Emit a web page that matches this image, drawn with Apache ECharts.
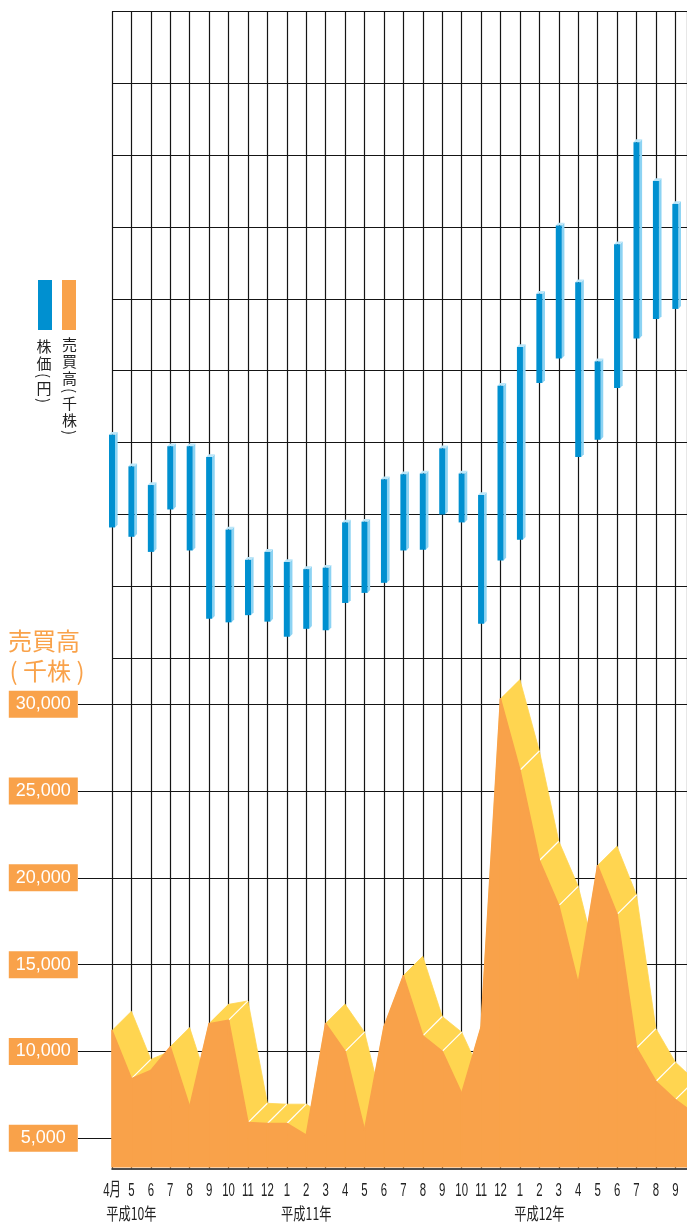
<!DOCTYPE html>
<html>
<head>
<meta charset="utf-8">
<script src="https://cdn.jsdelivr.net/npm/echarts@6/dist/echarts.min.js"></script>
<style>
html,body{margin:0;padding:0;background:#fff;}
#chart{width:687px;height:1225px;}
</style>
</head>
<body>
<div id="chart"></div>
<script>
// ---------------- data ----------------
const monthLabels = ['4月','5','6','7','8','9','10','11','12','1','2','3',
                     '4','5','6','7','8','9','10','11','12','1','2','3',
                     '4','5','6','7','8','9'];
// year captions shown under the month row (keyed by category index)
const yearLabels = {1: '平成10年', 10: '平成11年', 22: '平成12年'};

// stock price range per month (upper / lower end of each bar, 円; axis is unlabeled)
const stockHigh = [311,267,241,295,295,280,179,137,148,134,124,126,
                   189,190,249,256,257,292,257,227,379,433,507,602,
                   523,413,576,718,664,632];
const stockLow  = [182,169,148,207,150, 55, 50, 60, 51, 30, 41, 39,
                    77, 91,105,150,151,200,189, 48,136,165,383,417,
                   280,304,376,445,472,486];

// trading volume (千株); the last value is the partly visible following month
const volume = [11200, 8430, 8900,10250, 6800,11600,11800, 5900, 5850, 5850, 5170,11600,
                10000, 5460,11400,14360,10900,10000, 7570,11400,30300,26200,21000,18400,
                13900,20700,17900,10200, 8270, 7220, 6400];

const volumeAxis = {min: 0, max: 30000, step: 5000, floor: 3360};
const stockAxis  = {min: 0, max: 900, step: 100};

// ---------------- styles ----------------
const ORANGE = '#F9A24A';
const YELLOW = '#FFD550';
const BLUE = '#0090D0';
const BLUE_SIDE = '#8CD3F3';
const BLUE_TOP = '#BDE6F8';
const GRID_COLOR = '#151515';
const TEXT_COLOR = '#222222';
const X_MAX = 29.6;
const DEPTH = 19.3;   // pixel depth of the 3D volume ribbon

function fmtThousands(v) {
  return String(v).replace(/\B(?=(\d{3})+(?!\d))/g, ',');
}

function renderBar(params, api) {
  const i = api.value(0);
  const top = api.coord([i, api.value(1)]);
  const bot = api.coord([i, api.value(2)]);
  const step = api.size([1, 0])[0];
  const w = step * 0.31;
  const dx = 2.6, dy = 2.8;
  const x0 = top[0] - w / 2, x1 = top[0] + w / 2;
  return {
    type: 'group',
    children: [
      {type: 'polygon', shape: {points: [[x1, top[1]], [x1 + dx, top[1] - dy], [x1 + dx, bot[1] - dy], [x1, bot[1]]]},
       style: {fill: BLUE_SIDE}},
      {type: 'polygon', shape: {points: [[x0, top[1]], [x1, top[1]], [x1 + dx, top[1] - dy], [x0 + dx, top[1] - dy]]},
       style: {fill: BLUE_TOP}},
      {type: 'rect', shape: {x: x0, y: top[1], width: w, height: bot[1] - top[1]},
       style: {fill: BLUE}}
    ]
  };
}

function renderVolume(params, api) {
  const i = params.dataIndexInside;
  const n = params.dataInsideLength;
  if (i >= n - 1) return null;
  const step = api.size([1, 0])[0];
  const pt = (k) => api.coord([api.value(0, k), api.value(1, k)]);
  const base = (k) => api.coord([api.value(0, k), volumeAxis.floor]);
  const p0 = pt(i), p1 = pt(i + 1);
  const b0 = base(i), b1 = base(i + 1);
  const v = [step, -DEPTH];
  const visible = (a, b) => (a[1] - b[1]) < DEPTH;
  const children = [];
  children.push({
    type: 'polygon', z2: 1,
    shape: {points: [p0, p1, [p1[0] + v[0], p1[1] + v[1]], [p0[0] + v[0], p0[1] + v[1]]]},
    style: {fill: YELLOW, stroke: YELLOW, lineWidth: 0.8}
  });
  if (i > 0) {
    const pm = pt(i - 1);
    if (visible(pm, p0) && visible(p0, p1)) {
      children.push({
        type: 'line', z2: 2,
        shape: {x1: p0[0], y1: p0[1], x2: p0[0] + v[0], y2: p0[1] + v[1]},
        style: {stroke: '#ffffff', lineWidth: 1.2}
      });
    }
  }
  children.push({
    type: 'polygon', z2: 3,
    shape: {points: [b0, p0, p1, b1]},
    style: {fill: ORANGE, stroke: ORANGE, lineWidth: 1.6, lineJoin: 'round'}
  });
  return {type: 'group', children: children};
}

// month / year captions under the frame (condensed lettering as in the original)
function renderMonthLabel(params, api) {
  const i = api.value(0);
  const p = api.coord([i, 0]);
  const children = [{
    type: 'text', x: p[0], y: p[1] + 22, scaleX: 0.6,
    style: {text: monthLabels[i], fontSize: 19, fontFamily: '"Liberation Sans", "Noto Sans CJK JP"',
            fill: TEXT_COLOR, align: 'center', verticalAlign: 'middle'}
  }];
  if (yearLabels[i]) {
    children.push({
      type: 'text', x: p[0], y: p[1] + 45, scaleX: 0.72,
      style: {text: yearLabels[i], fontSize: 17, fontFamily: '"Noto Sans CJK JP"',
              fill: TEXT_COLOR, align: 'center', verticalAlign: 'middle'}
    });
  }
  return {type: 'group', children: children};
}

function verticalLabel(str, cx, startY) {
  const els = [];
  let y = startY, prevA = null;
  for (const ch of str) {
    const isParen = ch === '(' || ch === ')';
    const a = isParen ? 8 : 17;
    if (prevA !== null) y += (prevA + a) / 2;
    prevA = a;
    els.push({
      type: 'text', x: cx, y: y, rotation: isParen ? -Math.PI / 2 : 0,
      style: {text: ch, fontSize: 15, fontFamily: '"Noto Sans CJK JP"', fill: TEXT_COLOR,
              align: 'center', verticalAlign: 'middle'}
    });
  }
  return els;
}

const chart = echarts.init(document.getElementById('chart'), null, {renderer: 'canvas'});

const option = {
  backgroundColor: '#ffffff',
  animation: false,
  grid: [
    {left: 112, right: 0, top: 11.3, bottom: 56.7},     // frame of vertical lines + month axis
    {left: 112, right: 0, top: 11.3, bottom: 566.7},    // stock price panel
    {left: 112, right: 0, top: 704.3, bottom: -1.8}     // volume panel
  ],
  xAxis: [
    {
      type: 'value', gridIndex: 0, min: 0, max: X_MAX, interval: 1,
      splitLine: {show: true, lineStyle: {color: GRID_COLOR, width: 1.2}},
      axisLine: {show: true, onZero: false, lineStyle: {color: GRID_COLOR, width: 1.6}},
      axisTick: {show: false},
      axisLabel: {show: false}
    },
    {type: 'value', gridIndex: 1, min: 0, max: X_MAX, show: false},
    {type: 'value', gridIndex: 2, min: 0, max: X_MAX, show: false}
  ],
  yAxis: [
    {type: 'value', gridIndex: 0, min: 0, max: 1, show: false},
    {
      type: 'value', gridIndex: 1, min: stockAxis.min, max: stockAxis.max, interval: stockAxis.step,
      axisLine: {show: false}, axisTick: {show: false}, axisLabel: {show: false},
      splitLine: {show: true, lineStyle: {color: GRID_COLOR, width: 1.2}}
    },
    {
      type: 'value', gridIndex: 2, min: volumeAxis.min, max: volumeAxis.max, interval: volumeAxis.step,
      axisLine: {show: false},
      axisTick: {show: true, inside: false, length: 34, lineStyle: {color: GRID_COLOR, width: 1.2}},
      splitLine: {show: true, lineStyle: {color: GRID_COLOR, width: 1.2}},
      axisLabel: {
        showMinLabel: false,
        formatter: fmtThousands,
        color: '#ffffff', fontSize: 18, fontFamily: '"Liberation Sans", Arial, sans-serif',
        backgroundColor: ORANGE, width: 69, align: 'center', padding: [4, 0, 3, 0], lineHeight: 20,
        margin: 68.7
      }
    }
  ],
  graphic: [
    {type: 'rect', left: 38, top: 280, shape: {width: 14, height: 50}, style: {fill: BLUE}},
    {type: 'rect', left: 62, top: 280, shape: {width: 14, height: 50}, style: {fill: ORANGE}},
    {type: 'group', children: verticalLabel('株価(円)', 44, 346)},
    {type: 'group', children: verticalLabel('売買高(千株)', 69.5, 344)},
    {type: 'text', x: 44, y: 641,
     style: {text: '売買高', fill: ORANGE, fontSize: 24, fontFamily: '"Noto Sans CJK JP"', align: 'center', verticalAlign: 'middle'}},
    {type: 'text', x: 47, y: 671,
     style: {text: '( 千株 )', fill: ORANGE, fontSize: 24, fontFamily: '"Noto Sans CJK JP"', align: 'center', verticalAlign: 'middle'}}
  ],
  series: [
    {
      type: 'custom', name: '株価', xAxisIndex: 1, yAxisIndex: 1,
      renderItem: renderBar,
      encode: {x: 0, y: [1, 2]},
      data: stockHigh.map((h, i) => [i, h, stockLow[i]])
    },
    {
      type: 'custom', name: '売買高', xAxisIndex: 2, yAxisIndex: 2,
      renderItem: renderVolume,
      clip: false,
      encode: {x: 0, y: 1},
      data: volume.map((v, i) => [i, v])
    },
    {
      type: 'custom', name: '月', xAxisIndex: 0, yAxisIndex: 0,
      renderItem: renderMonthLabel,
      clip: false, silent: true,
      encode: {x: 0, y: 1},
      data: monthLabels.map((m, i) => [i, 0])
    }
  ]
};

chart.setOption(option);
</script>
</body>
</html>
